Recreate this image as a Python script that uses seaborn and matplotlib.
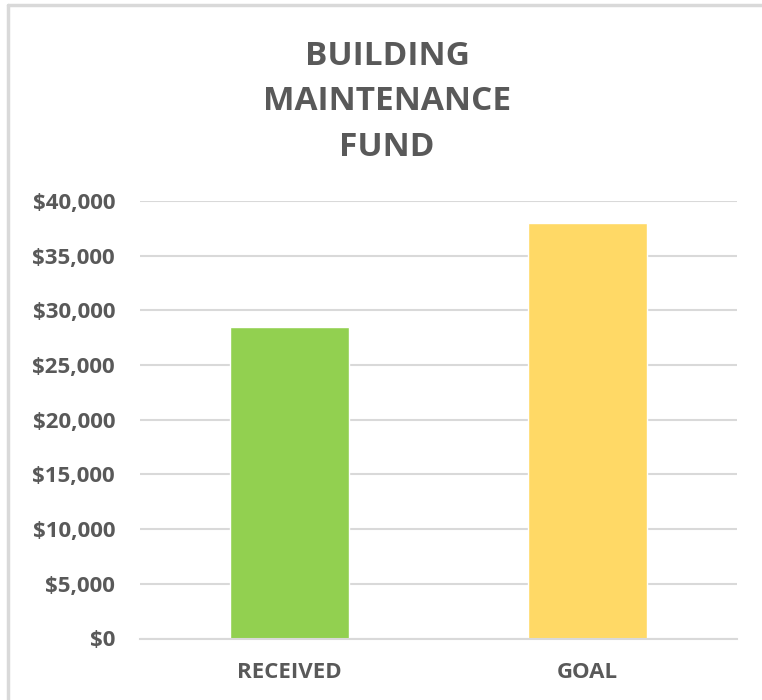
import matplotlib
matplotlib.use("Agg")
import matplotlib.pyplot as plt
from matplotlib.lines import Line2D
import seaborn as sns
import pandas as pd

# data
categories = ["RECEIVED", "GOAL"]
amounts = [28500, 38000]
bar_colors = ["#92D050", "#FFD966"]
y_ticks = [0, 5000, 10000, 15000, 20000, 25000, 30000, 35000, 40000]

sns.set_style("white")
plt.rcParams["font.family"] = ["Open Sans", "DejaVu Sans"]
text_color = "#595959"

df = pd.DataFrame({"category": categories, "amount": amounts})

fig = plt.figure(figsize=(7.62, 7.0), dpi=100)
ax = fig.add_axes([140 / 762, 1 - 638.5 / 700, 597 / 762, 437.5 / 700])

sns.barplot(data=df, x="category", y="amount", hue="category",
            palette=bar_colors, width=0.4, saturation=1, legend=False, ax=ax)

ax.set_ylim(0, 40000)
ax.set_xlim(-0.5, 1.5)
ax.set_yticks(y_ticks)
ax.set_yticklabels([f"${v:,}" for v in y_ticks], fontweight="bold",
                   fontsize=16, color=text_color)
ax.set_xticks(range(len(categories)))
ax.set_xticklabels(categories, fontweight="bold", fontsize=16, color=text_color)
ax.yaxis.grid(True, color="#D9D9D9", linewidth=1.5)
ax.set_axisbelow(True)
ax.set_xlabel("")
ax.set_ylabel("")
for side in ["top", "right", "left"]:
    ax.spines[side].set_visible(False)
ax.spines["bottom"].set_color("#D9D9D9")
ax.spines["bottom"].set_linewidth(1.5)
ax.tick_params(axis="both", length=0)
ax.tick_params(axis="y", pad=18)
ax.tick_params(axis="x", pad=17)

fig.text(0.508, 1 - 102 / 700, "BUILDING\nMAINTENANCE\nFUND", ha="center", va="center",
         fontsize=24, fontweight="bold", color=text_color, linespacing=1.5)

# chart frame (top and left edges visible)
fig.add_artist(Line2D([8 / 762, 8 / 762], [0, 1 - 5 / 700], transform=fig.transFigure,
                      color="#D9D9D9", linewidth=2.5))
fig.add_artist(Line2D([8 / 762, 1], [1 - 5 / 700, 1 - 5 / 700], transform=fig.transFigure,
                      color="#D9D9D9", linewidth=2.5))

fig.savefig("out.png", dpi=100, facecolor="white")
